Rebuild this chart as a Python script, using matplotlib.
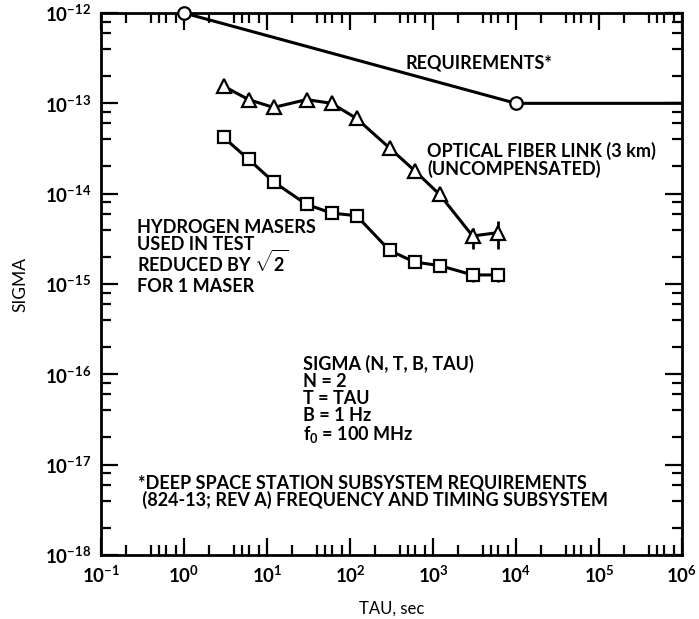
import numpy as np
import matplotlib
matplotlib.use("Agg")
import matplotlib.pyplot as plt
from matplotlib.ticker import FixedLocator, NullFormatter

plt.rcParams['font.family'] = ['Lato', 'DejaVu Sans']
plt.rcParams['font.weight'] = 'bold'
plt.rcParams['mathtext.fontset'] = 'custom'
plt.rcParams['mathtext.rm'] = 'Lato:bold'
plt.rcParams['mathtext.default'] = 'regular'

# Requirements curve
req_tau = [1, 1e4, 1e6]
req_sigma = [1.0e-12, 1.0e-13, 1.0e-13]

# Optical fiber link (3 km), uncompensated
fiber_tau = [3, 6, 12, 30, 60, 120, 300, 600, 1200, 3000, 6000]
fiber_sigma = [1.55e-13, 1.1e-13, 9.0e-14, 1.1e-13, 1.0e-13, 6.8e-14,
               3.2e-14, 1.8e-14, 9.8e-15, 3.4e-15, 3.7e-15]
fiber_err_tau = [3000, 6000]
fiber_err_lo = [2.45e-15, 2.45e-15]
fiber_err_hi = [4.2e-15, 5.0e-15]

# Hydrogen masers used in test
maser_tau = [3, 6, 12, 30, 60, 120, 300, 600, 1200, 3000, 6000]
maser_sigma = [4.2e-14, 2.4e-14, 1.35e-14, 7.6e-15, 6.1e-15, 5.7e-15,
               2.35e-15, 1.75e-15, 1.6e-15, 1.26e-15, 1.26e-15]
maser_err_tau = [3000, 6000]
maser_err_lo = [1.06e-15, 1.04e-15]
maser_err_hi = [1.5e-15, 1.52e-15]

x_major = [1e-1, 1e0, 1e1, 1e2, 1e3, 1e4, 1e5, 1e6]
x_labels = ['10$^{-1}$', '10$^{0}$', '10$^{1}$', '10$^{2}$', '10$^{3}$',
            '10$^{4}$', '10$^{5}$', '10$^{6}$']
y_major = [1e-18, 1e-17, 1e-16, 1e-15, 1e-14, 1e-13, 1e-12]
y_labels = ['10$^{-18}$', '10$^{-17}$', '10$^{-16}$', '10$^{-15}$',
            '10$^{-14}$', '10$^{-13}$', '10$^{-12}$']

maser_note = ['HYDROGEN MASERS', 'USED IN TEST', 'REDUCED BY $\\sqrt{2}$', 'FOR 1 MASER']
maser_note_y = [3.7e-15, 2.35e-15, 1.35e-15, 8.1e-16]

fig = plt.figure(figsize=(6.99, 6.19), dpi=100)
ax = fig.add_axes([101 / 699, 1 - 555 / 619, 581 / 699, 542 / 619])
ax.set_xscale('log')
ax.set_yscale('log')
ax.set_xlim(1e-1, 1e6)
ax.set_ylim(1e-18, 1e-12)

lw = 2.2
ax.plot(req_tau, req_sigma, color='black', lw=lw, zorder=3)
ax.plot(req_tau[:2], req_sigma[:2], 'o', ms=9, mfc='white', mec='black',
        mew=1.6, zorder=5, clip_on=False)

ax.vlines(fiber_err_tau, fiber_err_lo, fiber_err_hi, color='black', lw=2.0, zorder=3)
ax.plot(fiber_tau, fiber_sigma, '-^', color='black', lw=lw, ms=9.5,
        mfc='white', mec='black', mew=1.6, zorder=4)

ax.vlines(maser_err_tau, maser_err_lo, maser_err_hi, color='black', lw=2.0, zorder=3)
ax.plot(maser_tau, maser_sigma, '-s', color='black', lw=lw, ms=8,
        mfc='white', mec='black', mew=1.6, zorder=4)

# ticks
minor_x = [m * 10.0 ** e for e in range(-1, 6) for m in (2, 4, 5, 6, 8)]
minor_y = [m * 10.0 ** e for e in range(-18, -12) for m in (2, 4, 6, 8)]
ax.xaxis.set_major_locator(FixedLocator(x_major))
ax.xaxis.set_minor_locator(FixedLocator(minor_x))
ax.yaxis.set_major_locator(FixedLocator(y_major))
ax.yaxis.set_minor_locator(FixedLocator(minor_y))
ax.set_xticklabels(x_labels)
ax.set_yticklabels(y_labels)
ax.xaxis.set_minor_formatter(NullFormatter())
ax.yaxis.set_minor_formatter(NullFormatter())
ax.tick_params(which='both', direction='in', top=True, right=True,
               width=1.6, labelsize=13.5, colors='black')
ax.tick_params(which='major', length=12, pad=7)
ax.tick_params(which='minor', length=7)
for s in ax.spines.values():
    s.set_linewidth(2.0)

ax.set_xlabel('TAU, sec', fontsize=12)
ax.set_ylabel('SIGMA', fontsize=12.5)
ax.xaxis.set_label_coords(0.5, -0.085)
ax.yaxis.set_label_coords(-0.125, 0.5)

fs = 13
ax.text(460, 2.83e-13, 'REQUIREMENTS*', fontsize=fs, va='center', ha='left')
ax.text(850, 2.35e-14, 'OPTICAL FIBER LINK (3 km)\n(UNCOMPENSATED)',
        fontsize=fs, va='center', ha='left', linespacing=1.0)
for line, yv in zip(maser_note, maser_note_y):
    ax.text(0.27, yv, line, fontsize=fs, va='baseline', ha='left')
ax.text(27, 5.2e-17, 'SIGMA (N, T, B, TAU)\nN = 2\nT = TAU\nB = 1 Hz\nf$_0$ = 100 MHz',
        fontsize=fs, va='center', ha='left', linespacing=1.0)
ax.text(0.28, 5.0e-18, '*DEEP SPACE STATION SUBSYSTEM REQUIREMENTS\n (824-13; REV A) FREQUENCY AND TIMING SUBSYSTEM',
        fontsize=fs, va='center', ha='left', linespacing=1.0)

fig.savefig('out.png', dpi=100)
